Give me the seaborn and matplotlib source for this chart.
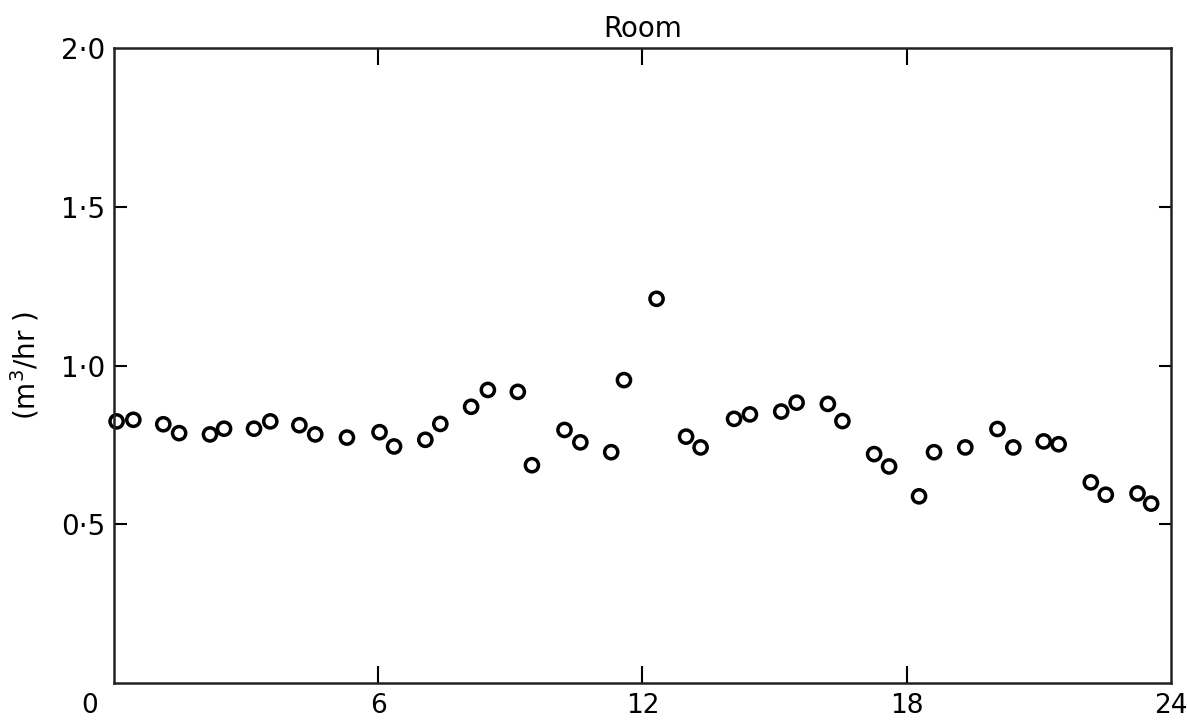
import matplotlib
matplotlib.use("Agg")
import matplotlib.pyplot as plt
import matplotlib.transforms as mtransforms
import seaborn as sns
import pandas as pd

# Data (hour of day, flow in m3/hr)
hours = [0.06, 0.44, 1.12, 1.48, 2.18, 2.50, 3.18, 3.55, 4.21, 4.57,
         5.29, 6.03, 6.36, 7.07, 7.41, 8.11, 8.49, 9.17, 9.49, 10.23,
         10.59, 11.29, 11.58, 12.32, 12.99, 13.32, 14.08, 14.44, 15.15, 15.50,
         16.21, 16.54, 17.26, 17.60, 18.28, 18.62, 19.33, 20.06, 20.42, 21.11,
         21.45, 22.18, 22.52, 23.24, 23.55]
flow = [0.824, 0.829, 0.815, 0.787, 0.783, 0.801, 0.801, 0.824, 0.812, 0.783,
        0.773, 0.790, 0.745, 0.766, 0.816, 0.870, 0.923, 0.917, 0.686, 0.797,
        0.758, 0.727, 0.954, 1.210, 0.776, 0.742, 0.832, 0.846, 0.855, 0.883,
        0.879, 0.825, 0.721, 0.682, 0.588, 0.727, 0.742, 0.800, 0.742, 0.761,
        0.752, 0.632, 0.593, 0.597, 0.565]

x_ticks = [0, 6, 12, 18, 24]
x_tick_labels = ["0", "6", "12", "18", "24"]
y_ticks = [0.5, 1.0, 1.5, 2.0]
y_tick_labels = ["0\u00b75", "1\u00b70", "1\u00b75", "2\u00b70"]
title = "Room"
y_label = "(m$^{3}$/hr )"

df = pd.DataFrame({"hour": hours, "flow": flow})

sns.set_style("white")
plt.rcParams["font.family"] = ["DejaVu Sans"]
plt.rcParams["text.color"] = "black"
plt.rcParams["axes.labelcolor"] = "black"

fig = plt.figure(figsize=(11.87, 7.25), dpi=100)
ax = fig.add_axes([0.0960, 0.0579, 0.8905, 0.8759])

sns.scatterplot(data=df, x="hour", y="flow", ax=ax, marker="o", s=90,
                linewidth=2.5, legend=False)
coll = ax.collections[0]
coll.set_facecolor("none")
coll.set_edgecolor("black")
coll.set_linewidth(2.5)
coll.set_clip_on(False)

ax.set_xlim(0, 24)
ax.set_ylim(0, 2.0)

ax.set_xticks(x_ticks)
ax.set_xticklabels(x_tick_labels, fontsize=19)
ax.set_yticks(y_ticks)
ax.set_yticklabels(y_tick_labels, fontsize=20)

ax.tick_params(axis="x", direction="in", length=12, width=1.5, pad=7,
               top=True, bottom=True, colors="black")
ax.tick_params(axis="y", direction="in", length=9, width=1.5, pad=6,
               left=True, right=True, colors="black")

# hide tick marks at the ends (0 and 24) and at 2.0 (they sit on spines)
for i, t in enumerate(ax.xaxis.get_major_ticks()):
    if i in (0, len(x_ticks) - 1):
        t.tick1line.set_visible(False)
        t.tick2line.set_visible(False)
for i, t in enumerate(ax.yaxis.get_major_ticks()):
    if i == len(y_ticks) - 1:
        t.tick1line.set_visible(False)
        t.tick2line.set_visible(False)

# "0" label sits to the left of the axis origin
lbl0 = ax.get_xticklabels()[0]
lbl0.set_transform(lbl0.get_transform() +
                   mtransforms.ScaledTranslation(-0.24, 0, fig.dpi_scale_trans))

for s in ax.spines.values():
    s.set_visible(True)
    s.set_color("#222222")
    s.set_linewidth(1.8)

ax.set_xlabel("")
ax.set_ylabel(y_label, fontsize=20, labelpad=14, color="black")
ax.set_title(title, fontsize=20, pad=8, color="black")

fig.savefig("out.png", dpi=100, facecolor="white")
